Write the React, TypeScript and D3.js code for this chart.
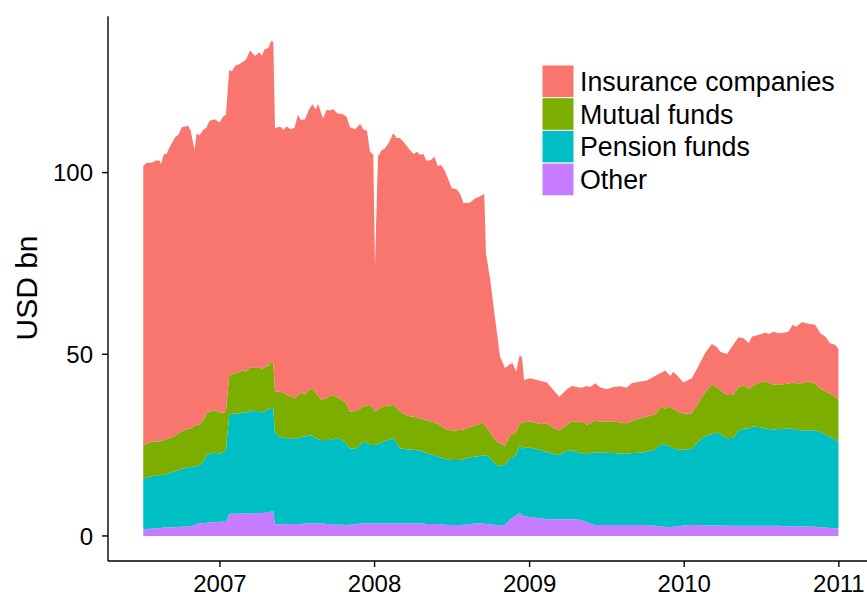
import React from "react";
import * as d3 from "d3";

// weekly-ish observation dates
const dates = [
  "2006-07-04", "2006-07-12", "2006-07-24", "2006-08-03", "2006-08-11", "2006-08-15", "2006-08-22", "2006-08-28",
  "2006-09-05", "2006-09-17", "2006-09-25", "2006-10-03", "2006-10-18", "2006-10-24", "2006-11-02", "2006-11-07",
  "2006-11-13", "2006-11-23", "2006-12-01", "2006-12-07", "2006-12-20", "2006-12-31", "2007-01-08", "2007-01-15",
  "2007-01-23", "2007-01-29", "2007-02-06", "2007-02-16", "2007-02-25", "2007-03-04", "2007-03-13", "2007-03-25",
  "2007-04-04", "2007-04-10", "2007-04-17", "2007-04-25", "2007-05-02", "2007-05-07", "2007-05-11", "2007-05-23",
  "2007-05-31", "2007-06-08", "2007-06-16", "2007-06-26", "2007-07-04", "2007-07-11", "2007-07-21", "2007-07-30",
  "2007-08-07", "2007-08-15", "2007-08-21", "2007-08-29", "2007-09-02", "2007-09-10", "2007-09-18", "2007-09-26",
  "2007-10-06", "2007-10-16", "2007-10-27", "2007-11-04", "2007-11-16", "2007-11-28", "2007-12-06", "2007-12-14",
  "2007-12-21", "2007-12-29", "2008-01-02", "2008-01-09", "2008-01-18", "2008-01-26", "2008-02-04", "2008-02-14",
  "2008-02-22", "2008-03-01", "2008-03-09", "2008-03-21", "2008-04-02", "2008-04-10", "2008-04-17", "2008-04-25",
  "2008-05-03", "2008-05-15", "2008-05-21", "2008-05-29", "2008-06-06", "2008-06-14", "2008-06-23", "2008-07-01",
  "2008-07-13", "2008-07-21", "2008-07-29", "2008-08-13", "2008-08-25", "2008-09-06", "2008-09-12", "2008-09-16",
  "2008-09-20", "2008-09-30", "2008-10-08", "2008-10-16", "2008-10-23", "2008-11-04", "2008-11-16", "2008-11-22",
  "2008-11-30", "2008-12-08", "2008-12-14", "2008-12-19", "2009-01-02", "2009-01-26", "2009-02-11", "2009-02-26",
  "2009-03-12", "2009-03-30", "2009-04-11", "2009-04-22", "2009-05-04", "2009-05-16", "2009-05-24", "2009-06-05",
  "2009-06-16", "2009-07-02", "2009-07-18", "2009-08-03", "2009-08-18", "2009-08-30", "2009-09-19", "2009-10-05",
  "2009-10-24", "2009-11-09", "2009-11-17", "2009-11-29", "2009-12-06", "2009-12-18", "2009-12-30", "2010-01-19",
  "2010-02-03", "2010-02-19", "2010-03-07", "2010-03-19", "2010-03-27", "2010-04-12", "2010-04-27", "2010-05-09",
  "2010-05-21", "2010-06-02", "2010-06-10", "2010-06-25", "2010-07-11", "2010-07-19", "2010-07-31", "2010-08-11",
  "2010-08-27", "2010-09-04", "2010-09-14", "2010-09-22", "2010-10-06", "2010-10-21", "2010-11-06", "2010-11-18",
  "2010-11-30", "2010-12-11", "2010-12-23", "2010-12-31",
];

// USD bn per holder type
const other = [
  1.8, 1.9, 2.0, 2.1, 2.2, 2.2, 2.3, 2.3, 2.4, 2.4, 2.5, 2.5, 2.6, 2.7, 3.0, 3.3,
  3.4, 3.5, 3.6, 3.7, 3.8, 3.9, 3.9, 3.9, 6.1, 6.1, 6.1, 6.2, 6.2, 6.2, 6.2, 6.3,
  6.3, 6.3, 6.4, 6.5, 6.7, 6.7, 3.2, 3.2, 3.2, 3.2, 3.3, 3.3, 3.3, 3.3, 3.4, 3.5,
  3.5, 3.5, 3.5, 3.4, 3.4, 3.3, 3.3, 3.2, 3.1, 3.1, 3.0, 3.1, 3.2, 3.4, 3.5, 3.5,
  3.5, 3.5, 3.5, 3.5, 3.5, 3.5, 3.5, 3.5, 3.5, 3.5, 3.5, 3.4, 3.4, 3.4, 3.4, 3.4,
  3.3, 3.3, 3.3, 3.3, 3.2, 3.1, 3.0, 3.0, 3.0, 3.0, 3.1, 3.2, 3.4, 3.5, 3.5, 3.4,
  3.3, 3.2, 3.1, 3.0, 2.9, 3.0, 4.6, 5.0, 5.6, 6.4, 5.8, 5.5, 5.2, 4.9, 4.6, 4.6,
  4.6, 4.6, 4.6, 4.6, 4.3, 3.8, 3.4, 3.0, 3.0, 3.0, 3.0, 3.0, 3.0, 3.0, 3.0, 3.0,
  2.8, 2.6, 2.5, 2.4, 2.5, 2.7, 2.9, 3.0, 3.0, 2.9, 2.9, 2.9, 2.9, 2.8, 2.8, 2.8,
  2.8, 2.8, 2.8, 2.8, 2.8, 2.8, 2.8, 2.8, 2.7, 2.7, 2.7, 2.7, 2.6, 2.6, 2.5, 2.4,
  2.3, 2.2, 2.1, 2.1,
];

const pension = [
  14.1, 14.1, 14.4, 14.5, 14.5, 14.6, 14.5, 14.7, 14.9, 15.4, 15.6, 15.9, 16.3, 16.3, 16.1, 15.9,
  16.0, 17.0, 18.7, 18.9, 19.1, 18.8, 19.1, 19.8, 27.2, 27.5, 27.7, 27.4, 28.0, 27.6, 28.4, 28.0,
  28.1, 27.7, 28.0, 28.3, 28.6, 28.3, 25.1, 24.0, 23.8, 23.7, 23.6, 23.6, 23.6, 23.9, 24.0, 24.3,
  24.1, 23.4, 23.1, 23.0, 23.0, 23.1, 23.1, 23.5, 23.8, 23.3, 22.4, 21.0, 20.9, 21.6, 22.5, 22.2,
  21.5, 21.5, 21.5, 21.7, 22.3, 22.7, 23.0, 23.4, 22.3, 20.6, 20.5, 20.4, 20.3, 20.2, 20.1, 19.8,
  19.4, 19.1, 18.9, 18.6, 18.4, 18.2, 18.0, 17.9, 17.9, 17.9, 18.1, 18.4, 18.4, 18.5, 18.6, 18.7,
  18.9, 18.3, 17.2, 16.5, 16.4, 16.6, 16.8, 16.5, 16.7, 18.6, 18.2, 18.8, 19.1, 18.8, 18.4, 18.0,
  17.7, 18.8, 18.9, 18.5, 18.5, 18.7, 19.4, 20.0, 20.0, 19.9, 19.8, 19.7, 19.6, 19.8, 19.9, 20.2,
  21.0, 22.7, 22.5, 22.3, 21.7, 21.0, 20.8, 21.0, 23.0, 24.6, 25.1, 25.6, 25.1, 24.1, 24.2, 26.2,
  26.7, 26.8, 27.3, 27.2, 26.8, 26.6, 26.5, 26.6, 26.8, 26.9, 26.8, 26.5, 26.4, 26.5, 26.5, 26.2,
  25.6, 25.1, 24.5, 23.9,
];

const mutual = [
  9.1, 9.3, 9.6, 9.4, 9.3, 9.3, 9.6, 9.6, 9.6, 9.8, 10.1, 10.4, 10.6, 10.5, 11.1, 11.4,
  11.2, 11.3, 11.5, 11.6, 11.7, 11.3, 10.9, 10.5, 11.0, 10.9, 11.0, 11.6, 11.5, 11.4, 11.9, 11.9,
  11.9, 11.8, 12.1, 12.0, 12.7, 12.5, 11.4, 12.5, 12.4, 11.9, 11.6, 11.0, 11.8, 12.2, 11.6, 12.4,
  12.9, 12.6, 11.9, 11.0, 11.2, 11.5, 12.1, 12.1, 11.1, 11.0, 11.1, 10.1, 10.3, 10.0, 9.6, 10.1,
  11.1, 10.0, 9.2, 9.6, 9.6, 9.6, 9.4, 9.2, 9.4, 10.1, 9.6, 9.2, 9.1, 9.0, 8.9, 9.0,
  9.1, 9.0, 9.0, 8.9, 8.6, 8.3, 8.2, 8.1, 8.1, 8.3, 8.1, 8.4, 8.6, 8.8, 9.1, 8.4,
  8.0, 7.0, 6.6, 6.5, 6.2, 5.2, 6.4, 6.3, 6.3, 5.6, 7.2, 7.0, 7.2, 7.1, 7.9, 7.2,
  6.7, 7.2, 8.0, 8.4, 8.7, 8.1, 8.2, 8.9, 8.4, 8.7, 8.8, 8.5, 8.4, 8.8, 9.5, 9.6,
  9.7, 10.3, 10.0, 10.9, 10.8, 10.5, 9.9, 9.8, 10.5, 12.0, 13.6, 12.5, 12.0, 11.9, 11.8, 12.0,
  12.0, 10.8, 11.1, 12.2, 12.9, 12.9, 12.3, 12.2, 12.3, 12.3, 12.8, 12.8, 13.0, 13.4, 12.9, 12.0,
  11.8, 12.0, 11.6, 11.6,
];

const insurance = [
  76.8, 77.4, 76.7, 77.3, 77.3, 76.3, 78.7, 78.5, 80.3, 82.1, 82.2, 83.7, 83.4, 82.0, 76.0, 80.2,
  79.6, 80.0, 78.7, 80.0, 80.1, 79.8, 81.5, 81.7, 84.0, 83.3, 84.6, 84.7, 84.8, 86.0, 87.1, 85.9,
  86.8, 86.4, 87.5, 87.4, 88.2, 88.5, 72.5, 73.0, 72.4, 73.9, 73.5, 74.4, 77.2, 75.1, 75.7, 77.1,
  78.3, 77.9, 80.4, 78.5, 77.4, 79.4, 78.6, 78.6, 78.2, 78.8, 78.9, 78.3, 77.5, 78.4, 76.2, 75.8,
  69.7, 69.9, 39.8, 69.6, 70.8, 70.9, 72.4, 74.7, 74.3, 75.3, 74.9, 73.7, 72.3, 73.1, 72.5, 72.9,
  71.4, 72.2, 73.2, 71.0, 71.9, 71.1, 69.0, 66.7, 66.4, 64.9, 62.3, 61.7, 62.5, 62.6, 62.7, 63.5,
  47.6, 42.0, 36.2, 29.8, 23.9, 21.4, 19.5, 19.7, 16.6, 18.9, 18.1, 11.6, 11.9, 11.9, 11.3, 10.4,
  9.3, 9.8, 9.8, 9.5, 9.3, 10.7, 10.0, 10.1, 9.5, 8.8, 9.4, 10.0, 9.8, 10.4, 10.1, 10.0,
  10.5, 9.4, 10.5, 8.4, 10.2, 9.6, 8.6, 9.6, 10.1, 10.8, 11.2, 11.0, 10.7, 11.3, 13.8, 13.7,
  12.9, 12.6, 13.7, 13.1, 13.5, 13.3, 14.6, 14.2, 14.2, 14.3, 15.8, 15.6, 16.9, 15.9, 16.2, 15.2,
  15.2, 13.7, 14.4, 13.8,
];

const seriesKeys = ["other", "pension", "mutual", "insurance"];
const legendLabels = ["Insurance companies", "Mutual funds", "Pension funds", "Other"];
const legendKeys = ["insurance", "mutual", "pension", "other"];
const colors = { insurance: "#F8766D", mutual: "#7CAE00", pension: "#00BFC4", other: "#C77CFF" };
const yTicks = [0, 50, 100];
const xTickYears = [2007, 2008, 2009, 2010, 2011];

const W = 867;
const H = 601;
const panel = { left: 108.5, right: 873.2, top: 16.3, bottom: 560.7 };
const font = "'Liberation Sans', Arial, Helvetica, sans-serif";

export default function App() {
  const parse = d3.timeParse("%Y-%m-%d");
  const rows = dates.map((d, i) => ({
    date: parse(d) as Date,
    other: other[i],
    pension: pension[i],
    mutual: mutual[i],
    insurance: insurance[i],
  }));

  const stacked = d3.stack<any>().keys(seriesKeys)(rows);

  // ggplot-like 5% expansion on both axes
  const [t0, t1] = d3.extent(rows, (d) => d.date) as [Date, Date];
  const tPad = (t1.getTime() - t0.getTime()) * 0.05;
  const x = d3
    .scaleTime()
    .domain([new Date(t0.getTime() - tPad), new Date(t1.getTime() + tPad)])
    .range([panel.left, panel.right]);

  const yMax = d3.max(stacked[stacked.length - 1], (d) => d[1]) as number;
  const yPad = yMax * 0.05;
  const y = d3.scaleLinear().domain([-yPad, yMax + yPad]).range([panel.bottom, panel.top]);

  const area = d3
    .area<any>()
    .x((d) => x(d.data.date))
    .y0((d) => y(d[0]))
    .y1((d) => y(d[1]));

  const axisX = 108;
  const axisY = 561;
  const tickLen = 6;

  return (
    <svg
      width={W}
      height={H}
      style={{ position: "absolute", left: 0, top: 0, background: "#fff" }}
      fontFamily={font}
    >
      <rect width={W} height={H} fill="#fff" />
      {stacked.map((s) => (
        <path key={s.key} d={area(s) ?? ""} fill={(colors as any)[s.key]} />
      ))}

      {/* y axis */}
      <line x1={axisX} x2={axisX} y1={panel.top} y2={axisY} stroke="#000" strokeWidth={1.4} />
      {yTicks.map((t) => (
        <g key={t}>
          <line x1={axisX - tickLen} x2={axisX} y1={y(t)} y2={y(t)} stroke="#000" strokeWidth={1.4} />
          <text x={axisX - 15} y={y(t)} dy="0.36em" textAnchor="end" fontSize={24} fill="#000">
            {t}
          </text>
        </g>
      ))}
      <text
        transform={`translate(37,288) rotate(-90)`}
        textAnchor="middle"
        fontSize={30}
        fill="#000"
      >
        USD bn
      </text>

      {/* x axis */}
      <line x1={axisX} x2={W} y1={axisY} y2={axisY} stroke="#000" strokeWidth={1.4} />
      {xTickYears.map((yr) => {
        const px = x(new Date(yr, 0, 1));
        return (
          <g key={yr}>
            <line x1={px} x2={px} y1={axisY} y2={axisY + tickLen} stroke="#000" strokeWidth={1.4} />
            <text x={px} y={592} textAnchor="middle" fontSize={24} fill="#000">
              {yr}
            </text>
          </g>
        );
      })}

      {/* legend */}
      {legendKeys.map((k, i) => {
        const top = 65 + i * 32.7;
        return (
          <g key={k}>
            <rect x={542} y={top} width={32} height={32.7} fill={(colors as any)[k]} stroke="#fff" strokeWidth={1} />
            <text x={580} y={top + 16.4} dy="0.36em" fontSize={26.8} fill="#000">
              {legendLabels[i]}
            </text>
          </g>
        );
      })}
    </svg>
  );
}
